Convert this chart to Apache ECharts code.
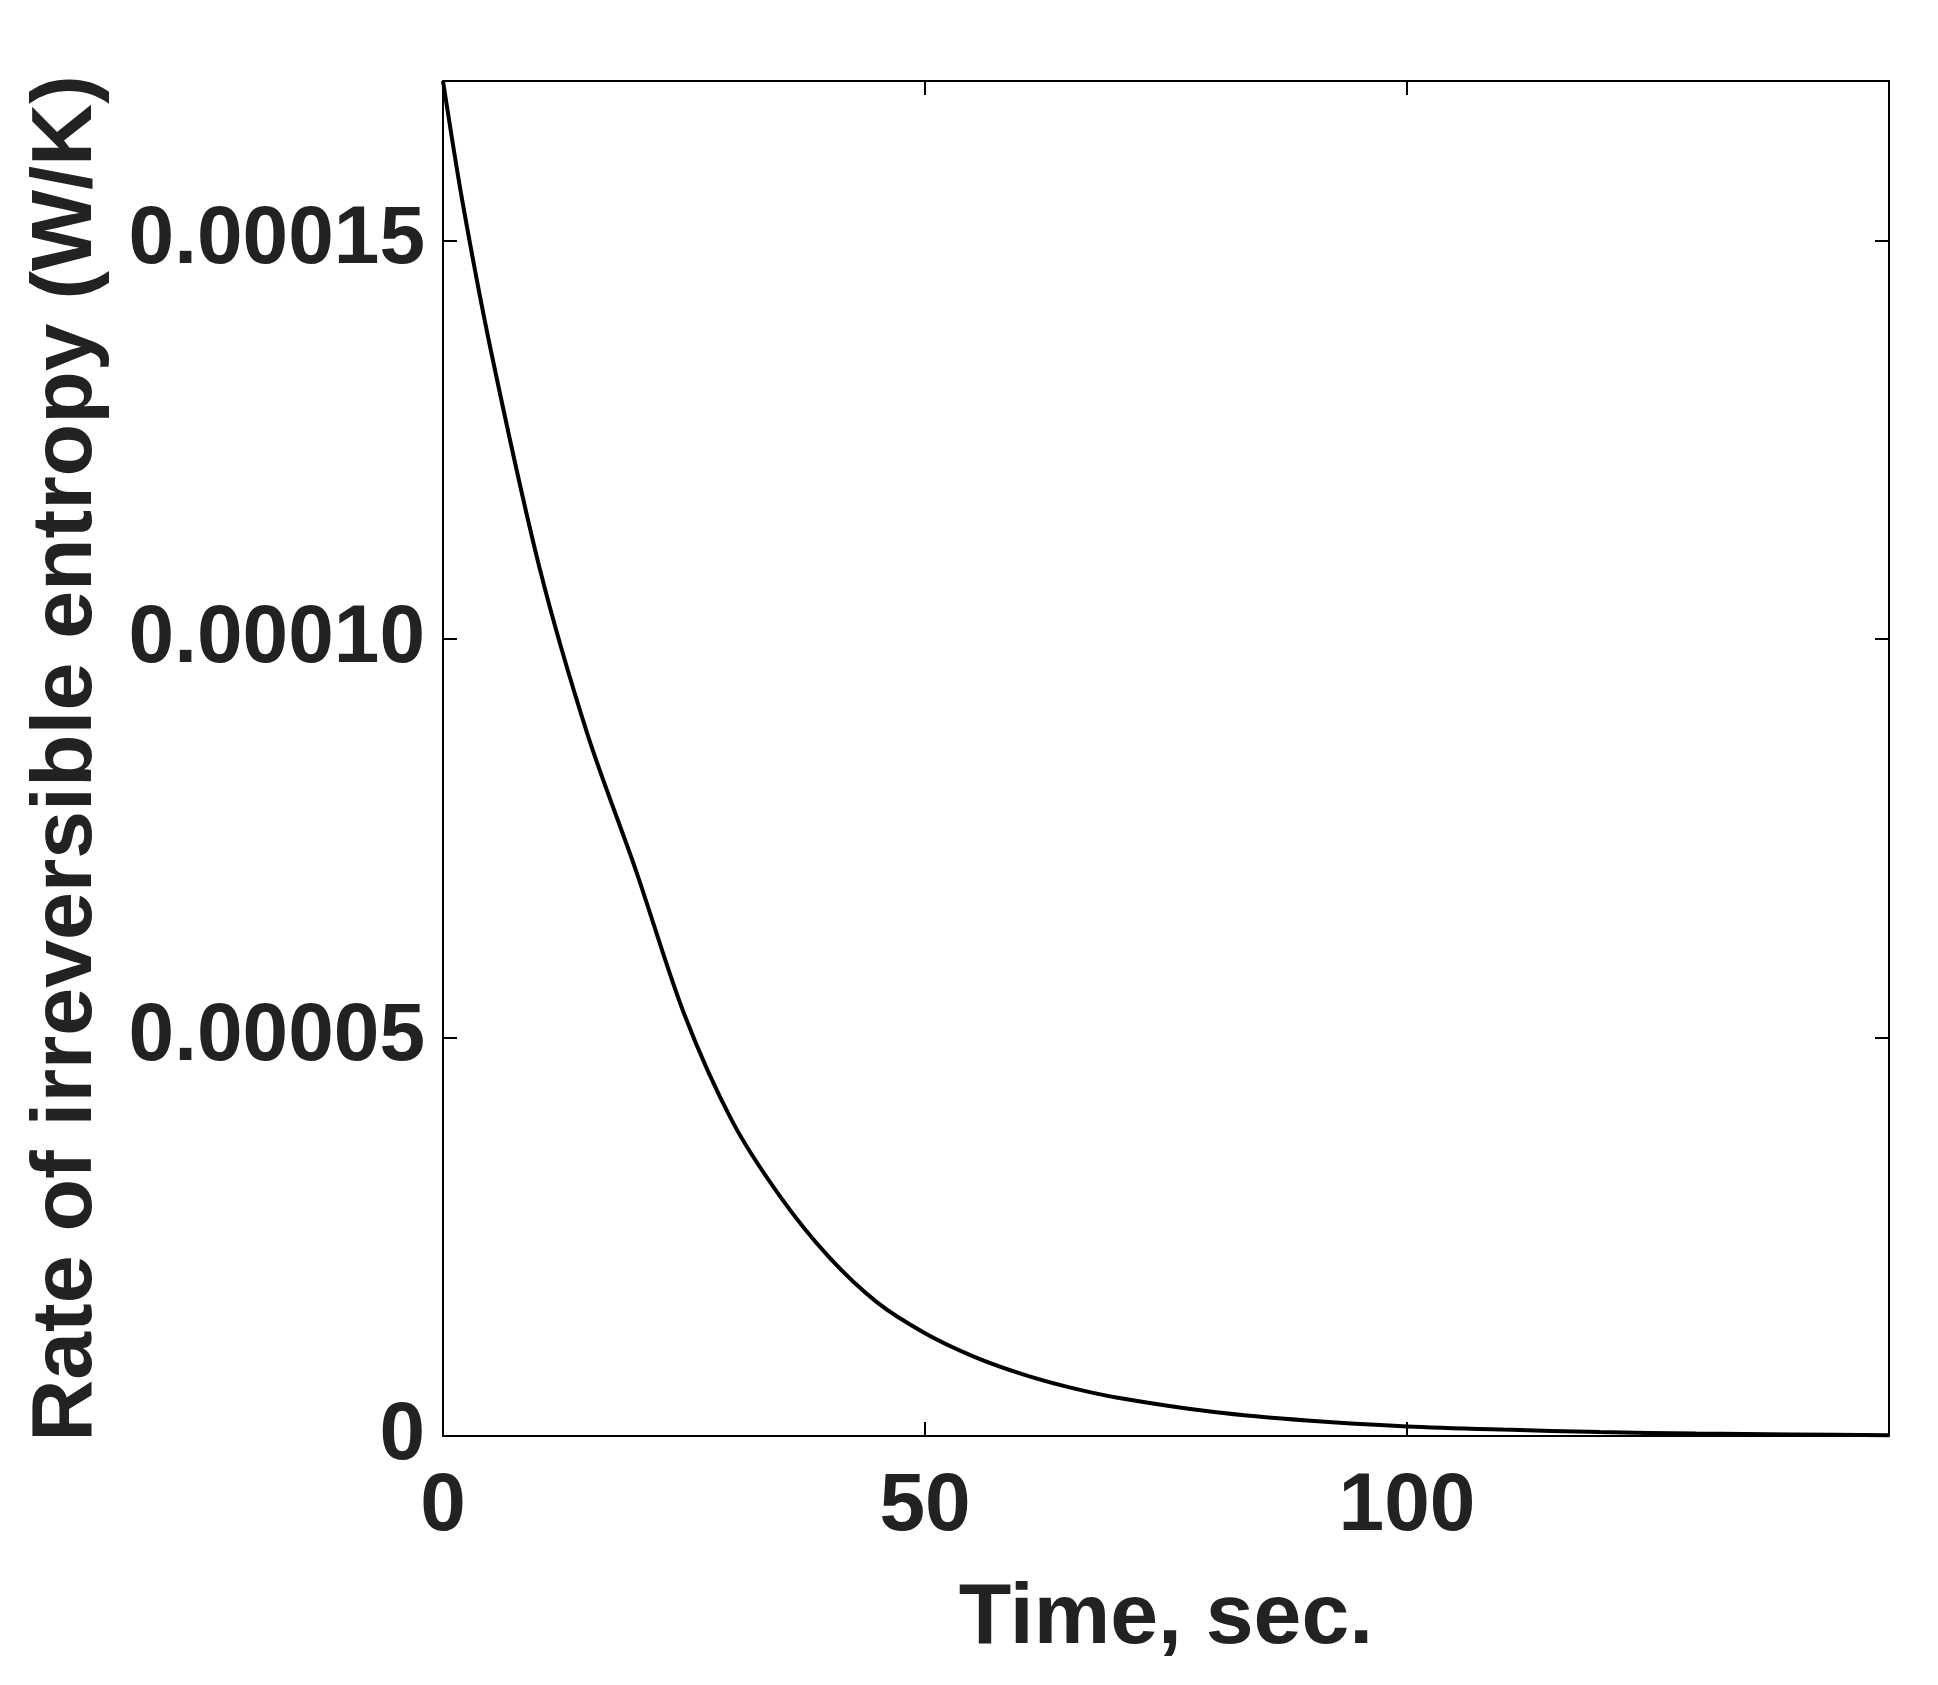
<!DOCTYPE html>
<html>
<head>
<meta charset="utf-8">
<script src="https://cdn.jsdelivr.net/npm/echarts@6/dist/echarts.min.js"></script>
<style>html,body{margin:0;background:#fff}#chart{width:1938px;height:1685px}</style>
</head>
<body>
<div id="chart"></div>
<script>
// time (s) and rate of irreversible entropy (W/K)
const times = [0, 2, 5, 10, 15, 20, 25, 30, 35, 40, 45, 50, 55, 60, 65, 70, 80, 90, 100, 110, 120, 130, 140, 150];
const rates = [0.00017, 0.000155, 0.000136, 0.000109, 0.000088, 0.000071, 0.000053, 0.0000395, 0.0000300, 0.0000225,
  0.0000168, 0.0000129, 0.0000100, 0.0000078, 0.0000061, 0.0000048, 0.0000030, 0.0000019, 0.0000012,
  0.0000008, 0.0000005, 0.0000003, 0.0000002, 0.0000001];
const xTicks = { min: 0, max: 150, interval: 50 };
const yTicks = { min: 0, max: 0.00017, interval: 0.00005 };

const font = 'Liberation Sans';
const lineStyle = { color: '#000', width: 2 };
const chart = echarts.init(document.getElementById('chart'));
const base = {
  axisLine: { show: true, onZero: false, lineStyle },
  axisTick: { show: true, inside: true, length: 14, lineStyle: { color: '#000', width: 2 } },
  splitLine: { show: false }
};
chart.setOption({
  animation: false,
  grid: { left: 443, right: 49, top: 81, bottom: 249 },
  xAxis: [
    Object.assign({
      type: 'value', ...xTicks,
      name: 'Time, sec.', nameLocation: 'middle', nameGap: 140,
      nameTextStyle: { fontFamily: font, fontWeight: 'bold', fontSize: 86, color: '#222' },
      axisLabel: { fontFamily: font, fontWeight: 'bold', fontSize: 82, color: '#222', margin: 30, showMaxLabel: false }
    }, base),
    Object.assign({ type: 'value', position: 'top', ...xTicks, axisLabel: { show: false } }, base)
  ],
  yAxis: [
    Object.assign({
      type: 'value', ...yTicks,
      name: 'Rate of irreversible entropy (W/K)', nameLocation: 'middle', nameGap: 333,
      nameTextStyle: { fontFamily: font, fontWeight: 'bold', fontSize: 86, color: '#222' },
      axisLabel: {
        fontFamily: font, fontWeight: 'bold', fontSize: 82, color: '#222', margin: 18, showMaxLabel: false,
        formatter: v => v === 0 ? '0' : v.toFixed(5)
      }
    }, base),
    Object.assign({ type: 'value', position: 'right', ...yTicks, axisLabel: { show: false } }, base)
  ],
  series: [{
    type: 'line', showSymbol: false, smooth: 0.3,
    data: times.map((t, i) => [t, rates[i]]),
    lineStyle: { color: '#000', width: 4 }
  }]
});
</script>
</body>
</html>
